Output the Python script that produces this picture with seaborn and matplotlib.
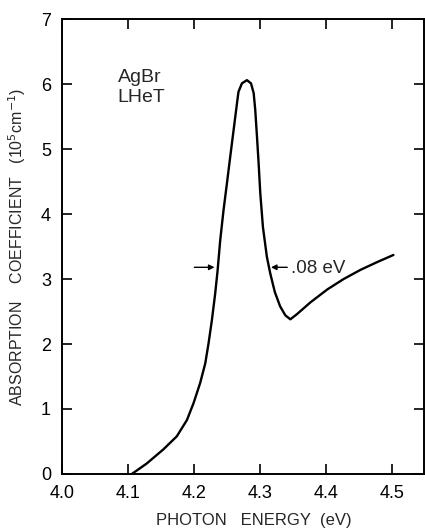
import numpy as np
import pandas as pd
import matplotlib
matplotlib.use('Agg')
import matplotlib.pyplot as plt
import seaborn as sns

# AgBr absorption at liquid helium temperature
energy = [4.1056, 4.128, 4.1535, 4.1737, 4.189, 4.199, 4.209, 4.2167, 4.2217,
          4.2268, 4.2318, 4.2353, 4.2394, 4.2444, 4.2495, 4.2545, 4.2596,
          4.2647, 4.267, 4.2722, 4.2798, 4.286, 4.290, 4.2924, 4.295, 4.2975,
          4.300, 4.304, 4.310, 4.315, 4.322, 4.330, 4.338, 4.3455, 4.3556,
          4.3758, 4.4015, 4.4262, 4.4515, 4.4768, 4.5015]
absorption = [0.00, 0.16, 0.38, 0.58, 0.83, 1.09, 1.40, 1.70, 2.01,
              2.37, 2.78, 3.12, 3.60, 4.06, 4.47, 4.88, 5.29,
              5.70, 5.88, 6.01, 6.06, 6.01, 5.86, 5.60, 5.19, 4.78,
              4.32, 3.80, 3.34, 3.09, 2.80, 2.58, 2.44, 2.38, 2.46,
              2.64, 2.84, 3.00, 3.14, 3.26, 3.37]

x_ticks = [4.0, 4.1, 4.2, 4.3, 4.4, 4.5]
x_ticklabels = ['4.0', '4.1', '4.2', '4.3', '4.4', '4.5']
y_ticks = [0, 1, 2, 3, 4, 5, 6, 7]

df = pd.DataFrame({'energy': energy, 'absorption': absorption})

sns.set_style('ticks')
plt.rcParams['font.family'] = ['Liberation Sans', 'DejaVu Sans']

fig = plt.figure(figsize=(4.25, 5.29), dpi=100)
ax = fig.add_axes([0.146, 0.104, 0.852, 0.860])

sns.lineplot(data=df, x='energy', y='absorption', ax=ax, color='black',
             linewidth=1.7, sort=False)
ax.lines[0].set_solid_joinstyle('round')

ax.set_xlim(4.0, 4.548)
ax.set_ylim(0, 7)
ax.set_xticks(x_ticks)
ax.set_xticklabels(x_ticklabels)
ax.set_yticks(y_ticks)
ax.tick_params(direction='in', length=7, width=1.2, top=True, right=True,
               labelsize=13, colors='black', pad=8)
for sp in ax.spines.values():
    sp.set_linewidth(1.4)
    sp.set_color('black')

ax.set_xlabel('PHOTON   ENERGY  (eV)', fontsize=12, labelpad=8)
ax.xaxis.set_label_coords(0.53, -0.085)
ax.set_ylabel(r'ABSORPTION    COEFFICIENT   (10$^5$cm$^{-1}$)', fontsize=11.5,
              labelpad=9)

ax.text(4.084, 5.95, 'AgBr\nLHeT', fontsize=14, va='center', ha='left',
        linespacing=1.25)

# half-width markers
arrow = dict(arrowstyle='-|>', color='black', lw=1.0, mutation_scale=8)
ax.annotate('', xy=(4.235, 3.18), xytext=(4.196, 3.18), arrowprops=arrow)
ax.annotate('', xy=(4.312, 3.18), xytext=(4.345, 3.18), arrowprops=arrow)
ax.text(4.346, 3.16, '.08 eV', fontsize=13.5, va='center', ha='left')

fig.savefig('out.png', dpi=100)
